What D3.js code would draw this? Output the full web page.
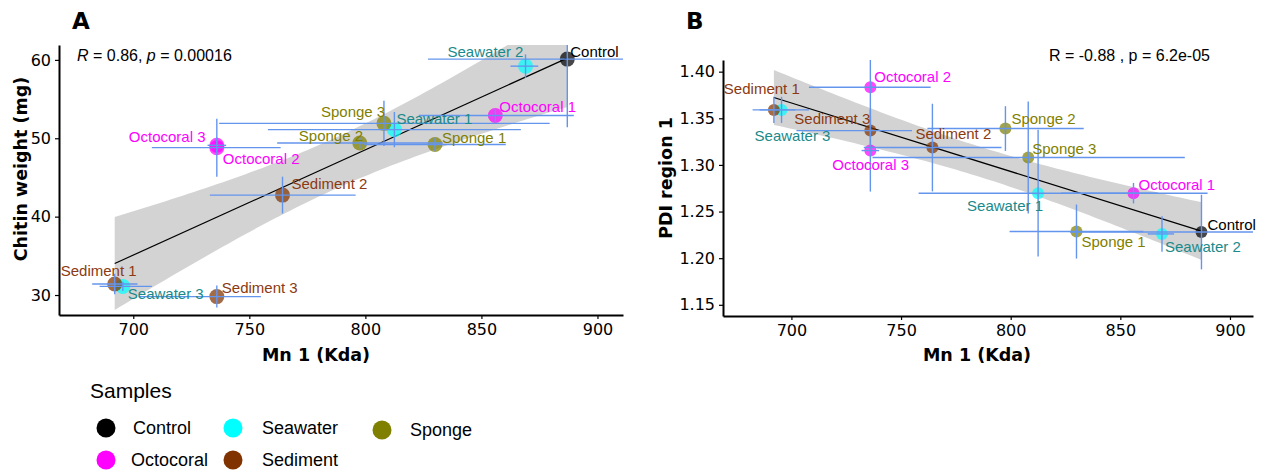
<!DOCTYPE html>
<html>
<head>
<meta charset="utf-8">
<script src="https://cdn.jsdelivr.net/npm/d3@7"></script>
<style>
  body { margin: 0; background: #fff; }
  svg { display: block; }
</style>
</head>
<body>
<div id="chart"></div>
<script>
// data
const samples = ['Control', 'Seawater 1', 'Seawater 2', 'Seawater 3', 'Octocoral 1', 'Octocoral 2', 'Octocoral 3',
    'Sponge 1', 'Sponge 2', 'Sponge 3', 'Sediment 1', 'Sediment 2', 'Sediment 3'];
const groups = ['Control', 'Seawater', 'Seawater', 'Seawater', 'Octocoral', 'Octocoral', 'Octocoral',
    'Sponge', 'Sponge', 'Sponge', 'Sediment', 'Sediment', 'Sediment'];
const mn    = [887, 812.5, 869, 695.5, 856, 736, 736, 830, 797.6, 808, 692, 764.3, 736];
const mnLo  = [827, 758, 862.5, 685.5, 823, 708, 732, 799.5, 762, 737, 682.3, 733, 702.3];
const mnHi  = [947, 867, 874.5, 708, 889.8, 763.5, 740, 860.5, 833.3, 879.4, 701.8, 795.8, 755];
const chitin   = [60.1, 51.1, 59.2, 31.1, 52.9, 48.8, 49.1, 49.2, 49.4, 51.9, 31.4, 42.75, 29.8];
const chitinSd = [8.7, 2.25, 1.5, 0.6, 0.85, 3.7, 1.0, 0.85, 0.7, 2.9, 1.3, 2.35, 1.4];
const pdi   = [1.228, 1.2697, 1.226, 1.359, 1.2697, 1.3833, 1.3154, 1.2286, 1.339, 1.308, 1.359, 1.3186, 1.3368];
const pdiSd = [0.04, 0.068, 0.019, 0.014, 0.011, 0.04, 0.044, 0.029, 0.024, 0.06, 0.014, 0.047, 0.015];

const legendGroups = ['Control', 'Seawater', 'Sponge', 'Octocoral', 'Sediment'];
const xTicks = [700, 750, 800, 850, 900];
const chitinTicks = [30, 40, 50, 60];
const pdiTicks = [1.15, 1.20, 1.25, 1.30, 1.35, 1.40];

const fillColor = { Control: '#000000', Seawater: '#00ffff', Octocoral: '#ff00ff', Sponge: '#808000', Sediment: '#803300' };
const textColor = { Control: '#000000', Seawater: '#1a8a8a', Octocoral: '#ff00ff', Sponge: '#7f7f00', Sediment: '#8b3a12' };

// label placement (px offset from point: text start, text middle)
const labelOffA = [[3,-8],[2,-11],[-78,-15],[5,7],[4,-9],[6,11],[-88,-9],[7,-7],[-61,-7],[-63,-12],[-54,-14],[9,-12],[5,-9]];
const labelOffB = [[6,-8],[-71,12],[3,13],[-27,26],[5,-9],[4,-11],[-38,14],[5,10],[6,-10],[4,-9],[-50,-21],[-17,-14],[-76,-12]];

const W = 1263, H = 473;
const svg = d3.select('#chart').append('svg').attr('width', W).attr('height', H);

const panels = [
    { tag: 'A', ys: chitin, ysd: chitinSd, labelOff: labelOffA, r: 7.5,
      xRange: [59, 623], xDomain: [668, 911], yRange: [315, 45], yDomain: [27.45, 61.9],
      yTicks: chitinTicks, yFmt: d3.format('d'), yTitle: 'Chitin weight (mg)',
      yTitleX: 21, yTitleY: 169, xTitleX: 316, tagX: 72, stat: 'A' },
    { tag: 'B', ys: pdi, ysd: pdiSd, labelOff: labelOffB, r: 6,
      xRange: [723, 1253], xDomain: [668.8, 910.5], yRange: [316, 60], yDomain: [1.138, 1.4125],
      yTicks: pdiTicks, yFmt: d3.format('.2f'), yTitle: 'PDI region 1',
      yTitleX: 666, yTitleY: 178, xTitleX: 977, tagX: 686, stat: 'B' }
];

function fitLine(xs, ys) {
    const n = xs.length, xm = d3.mean(xs), ym = d3.mean(ys);
    let sxx = 0, sxy = 0, syy = 0;
    xs.forEach((x, i) => { sxx += (x - xm) ** 2; sxy += (x - xm) * (ys[i] - ym); syy += (ys[i] - ym) ** 2; });
    const b = sxy / sxx, a = ym - b * xm;
    const s = Math.sqrt((syy - sxy * sxy / sxx) / (n - 2));
    return { a, b, n, xm, sxx, s };
}

panels.forEach((p, pi) => {
    const x = d3.scaleLinear().domain(p.xDomain).range(p.xRange);
    const y = d3.scaleLinear().domain(p.yDomain).range(p.yRange);
    const g = svg.append('g');

    const clipId = 'clip' + pi;
    svg.append('clipPath').attr('id', clipId).append('rect')
        .attr('x', p.xRange[0]).attr('y', p.yRange[1])
        .attr('width', p.xRange[1] - p.xRange[0]).attr('height', p.yRange[0] - p.yRange[1]);
    const plot = g.append('g').attr('clip-path', `url(#${clipId})`);

    // regression + 95% band
    const fit = fitLine(mn, p.ys);
    const t = 2.201; // t(0.975, 11 df)
    const xs = d3.range(d3.min(mn), d3.max(mn) + 0.01, (d3.max(mn) - d3.min(mn)) / 80);
    const band = xs.map(v => {
        const se = fit.s * Math.sqrt(1 / fit.n + (v - fit.xm) ** 2 / fit.sxx);
        const yh = fit.a + fit.b * v;
        return { v, lo: yh - t * se, hi: yh + t * se };
    });
    plot.append('path')
        .datum(band)
        .attr('fill', '#d3d3d3')
        .attr('d', d3.area().x(d => x(d.v)).y0(d => y(d.lo)).y1(d => y(d.hi)));
    plot.append('line')
        .attr('x1', x(d3.min(mn))).attr('y1', y(fit.a + fit.b * d3.min(mn)))
        .attr('x2', x(d3.max(mn))).attr('y2', y(fit.a + fit.b * d3.max(mn)))
        .attr('stroke', '#000').attr('stroke-width', 1.2);

    // points
    plot.selectAll('circle.pt')
        .data(samples)
        .enter().append('circle')
        .attr('class', 'pt')
        .attr('cx', (d, i) => x(mn[i]))
        .attr('cy', (d, i) => y(p.ys[i]))
        .attr('r', p.r)
        .attr('fill', (d, i) => fillColor[groups[i]])
        .attr('fill-opacity', 0.72);

    // error bars
    const eb = plot.append('g').attr('stroke', '#6495ed').attr('stroke-width', 1.4);
    samples.forEach((s, i) => {
        eb.append('line')
            .attr('x1', x(mnLo[i])).attr('x2', x(mnHi[i]))
            .attr('y1', y(p.ys[i])).attr('y2', y(p.ys[i]));
        eb.append('line')
            .attr('x1', x(mn[i])).attr('x2', x(mn[i]))
            .attr('y1', y(p.ys[i] - p.ysd[i])).attr('y2', y(p.ys[i] + p.ysd[i]));
    });

    // point labels
    g.selectAll('text.lbl')
        .data(samples)
        .enter().append('text')
        .attr('class', 'lbl')
        .attr('x', (d, i) => x(mn[i]) + p.labelOff[i][0])
        .attr('y', (d, i) => y(p.ys[i]) + p.labelOff[i][1])
        .attr('dominant-baseline', 'central')
        .attr('font-family', 'Liberation Sans, Arial, sans-serif')
        .attr('font-size', 15)
        .attr('fill', (d, i) => textColor[groups[i]])
        .text(d => d);

    // axes
    const xAxis = g.append('g')
        .attr('transform', `translate(0, ${p.yRange[0]})`)
        .call(d3.axisBottom(x).tickValues(xTicks).tickSize(4).tickPadding(5).tickSizeOuter(0));
    const yAxis = g.append('g')
        .attr('transform', `translate(${p.xRange[0]}, 0)`)
        .call(d3.axisLeft(y).tickValues(p.yTicks).tickFormat(p.yFmt).tickSize(4).tickPadding(4).tickSizeOuter(0));
    [xAxis, yAxis].forEach(ax => {
        ax.select('.domain').attr('stroke', '#000').attr('stroke-width', 2);
        ax.selectAll('.tick line').attr('stroke', '#000').attr('stroke-width', 1.2);
        ax.selectAll('.tick text')
            .attr('font-family', 'DejaVu Sans, Verdana, sans-serif')
            .attr('font-size', 16)
            .attr('fill', '#000');
    });

    g.append('text')
        .attr('x', p.xTitleX).attr('y', 361)
        .attr('text-anchor', 'middle')
        .attr('font-family', 'DejaVu Sans, Verdana, sans-serif')
        .attr('font-weight', 'bold').attr('font-size', 17.5)
        .text('Mn 1 (Kda)');
    g.append('text')
        .attr('transform', `translate(${p.yTitleX}, ${p.yTitleY}) rotate(-90)`)
        .attr('text-anchor', 'middle').attr('dominant-baseline', 'central')
        .attr('font-family', 'DejaVu Sans, Verdana, sans-serif')
        .attr('font-weight', 'bold').attr('font-size', 17.5)
        .text(p.yTitle);

    g.append('text')
        .attr('x', p.tagX).attr('y', 29)
        .attr('font-family', 'DejaVu Sans, Verdana, sans-serif')
        .attr('font-weight', 'bold').attr('font-size', 23)
        .text(p.tag);
});

// correlation annotations
const statA = svg.append('text')
    .attr('x', 77).attr('y', 61)
    .attr('font-family', 'Liberation Sans, Arial, sans-serif')
    .attr('font-size', 16);
statA.append('tspan').attr('font-style', 'italic').text('R');
statA.append('tspan').text(' = 0.86, ');
statA.append('tspan').attr('font-style', 'italic').text('p');
statA.append('tspan').text(' = 0.00016');

svg.append('text')
    .attr('x', 1049).attr('y', 61)
    .attr('font-family', 'Liberation Sans, Arial, sans-serif')
    .attr('font-size', 16)
    .text('R = -0.88 , p = 6.2e-05');

// legend
const legend = svg.append('g');
legend.append('text')
    .attr('x', 90).attr('y', 398)
    .attr('font-family', 'Liberation Sans, Arial, sans-serif')
    .attr('font-size', 21)
    .text('Samples');
const legendPos = [[106, 428], [233, 428], [382, 430], [106, 460], [233, 460]];
const legendTextX = [133, 262, 410, 131, 262];
legendGroups.forEach((gname, i) => {
    legend.append('circle')
        .attr('cx', legendPos[i][0]).attr('cy', legendPos[i][1])
        .attr('r', 9.5)
        .attr('fill', fillColor[gname]);
    legend.append('text')
        .attr('x', legendTextX[i]).attr('y', legendPos[i][1])
        .attr('dominant-baseline', 'central')
        .attr('font-family', 'Liberation Sans, Arial, sans-serif')
        .attr('font-size', 18)
        .text(gname);
});
</script>
</body>
</html>
